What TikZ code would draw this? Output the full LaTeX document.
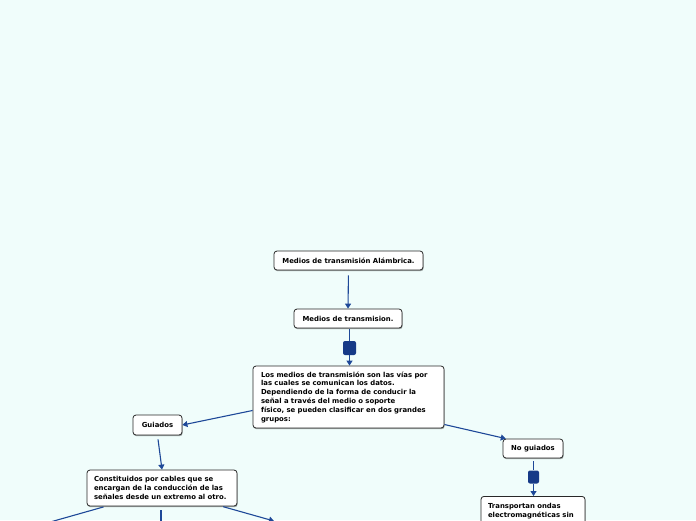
\documentclass[tikz,border=0pt]{standalone}
\usepackage{fontspec}
\setmainfont{DejaVu Sans}
\usepackage{xcolor}
\usetikzlibrary{
    shapes.misc,
    arrows.meta,
    positioning,
    calc,
    shadows
}
\definecolor{mapbg}{RGB}{240,253,251}
\definecolor{linkblue}{RGB}{30,72,152}
\definecolor{knobblue}{RGB}{22,58,135}
\definecolor{boxline}{RGB}{40,40,40}

\tikzset{
    topic/.style={draw=boxline, line width=0.8pt, rounded corners=3pt, fill=white,
        font=\fontsize{6.9}{8.8}\selectfont\bfseries, inner sep=0pt,
        drop shadow={shadow xshift=0.6pt, shadow yshift=-1.2pt, opacity=0.35, fill=black}},
    link/.style={draw=linkblue, line width=1.1pt},
    linkarrow/.style={link, -{Triangle[width=6pt,length=5pt]}},
    knob/.style={fill=knobblue, rounded corners=2pt, inner sep=0pt}
}

\begin{document}
\begin{tikzpicture}[x=1pt, y=-1pt]
                    \useasboundingbox (0,0) rectangle (696,520);
                    \clip (0,0) rectangle (696,520);
                    \fill[mapbg] (0,0) rectangle (696,520);
                    \node[topic, minimum width=149pt, minimum height=19pt] (alam) at (348.5, 260.5) {Medios de transmisión Alámbrica.};
                    \node[topic, minimum width=108pt, minimum height=19pt] (medios) at (348, 318.5) {Medios de transmision.};
                    \node[knob, minimum width=13pt, minimum height=14pt] (knobA) at (349.5, 348) {};
                    \node[topic, minimum width=191pt, minimum height=62pt, text width=175pt, align=left] (desc) at (348.5, 397)
                        {Los medios de transmisión son las vías por\\las cuales se comunican los datos.\\Dependiendo de la forma de conducir la\\señal a través del medio o soporte\\físico, se pueden clasificar en dos grandes\\grupos:};
                    \node[topic, minimum width=49pt, minimum height=20pt] (guiados) at (157.5, 425) {Guiados};
                    \node[topic, minimum width=150pt, minimum height=36pt, text width=136pt, align=left] (constit) at (162, 488)
                        {Constituidos por cables que se\\encargan de la conducción de las\\señales desde un extremo al otro.};
                    \node[topic, minimum width=60pt, minimum height=19pt] (noguiados) at (533, 448.5) {No guiados};
                    \node[knob, minimum width=11pt, minimum height=13pt] (knobB) at (533.5, 477) {};
                    \node[topic, minimum width=104pt, minimum height=40pt, text width=90pt, align=left, anchor=north] (transp) at (533, 496)
                        {Transportan ondas\\electromagnéticas sin\\\strut};
                    \coordinate (offL) at (29, 528);
                    \coordinate (offM) at (161, 530);
                    \coordinate (offR) at (274, 521);
                    % connectors
                    \draw[linkarrow, shorten <=5pt] (alam.south) -- (medios.north);
                    \draw[link, shorten <=1pt] (medios.south -| knobA) -- (knobA);
                    \draw[linkarrow] (knobA) -- (desc.north -| knobA);
                    \draw[linkarrow] (desc.188) -- (guiados.east);
                    \draw[linkarrow, shorten <=4pt] (guiados.south) -- (constit.north);
                    \draw[linkarrow] (desc.344) -- (noguiados.160);
                    \draw[link, shorten <=3pt] (noguiados.south -| knobB) -- (knobB);
                    \draw[linkarrow] (knobB) -- (transp.north -| knobB);
                    \draw[linkarrow, shorten <=2pt] (constit.198) -- (offL);
                    \draw[linkarrow, shorten <=4pt] (constit.south -| offM) -- (offM);
                    \draw[linkarrow, shorten <=1pt] (constit.343) -- (offR);
                \end{tikzpicture}
\end{document}
